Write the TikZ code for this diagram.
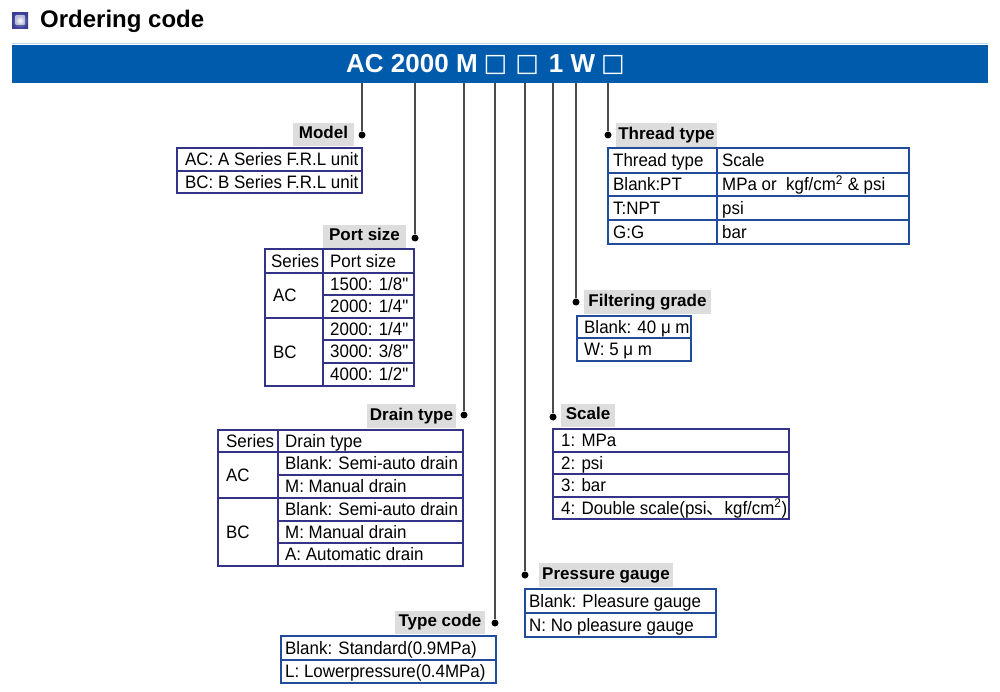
\documentclass[tikz,border=0pt]{standalone}
\usepackage{fontspec}
\setmainfont{Liberation Sans}
\newfontfamily\narrow{Liberation Sans}[FakeStretch=0.94]
\newfontfamily\cjk{Noto Sans CJK SC}
\newfontfamily\symfont{DejaVu Sans}
\usetikzlibrary{positioning}
\definecolor{barblue}{RGB}{0,91,172}
\definecolor{barlight}{RGB}{190,215,238}
\definecolor{tagback}{RGB}{221,221,221}
\definecolor{gridpurple}{RGB}{52,52,135}
\definecolor{gridblue}{RGB}{35,75,155}
\definecolor{leadgray}{RGB}{75,75,75}
\definecolor{iconblue}{RGB}{58,62,150}
\newcommand\slot{{\symfont\fontsize{25}{25}\selectfont\raisebox{1.5pt}{□}}}
\newcommand\inch{\textquotedbl}
\tikzset{
  lead/.style={leadgray, line width=1.3pt},
  grid/.style={gridpurple, line width=1.4pt},
  bluegrid/.style={gridblue, line width=1.4pt},
  tag/.style={fill=tagback, inner sep=0pt, minimum height=23.5pt,
    font=\bfseries\fontsize{17}{17}\selectfont, text height=12pt, text depth=3.5pt},
  cell/.style={anchor=west, inner sep=0pt, font=\narrow\fontsize{18}{20}\selectfont,
    text height=12.5pt, text depth=0pt},
  knob/.style={circle, fill=black, inner sep=0pt, minimum size=7pt}
}
\begin{document}
\begin{tikzpicture}[x=1pt, y=-1pt]
  \useasboundingbox (0,0) rectangle (1000,692);
  % heading
  \shade[inner color=iconblue!55, outer color=iconblue] (12,12.5) rectangle (28,28.5);
  \shade[inner color=white, outer color=iconblue!35] (15.5,16) rectangle (24.5,25);
  \node[anchor=base west, inner sep=0pt, font=\bfseries\fontsize{24}{24}\selectfont] (title) at (40,27.5) {Ordering code};
  % code bar
  \draw[barlight, line width=1pt] (12,44) -- (988,44);
  \node[fill=barblue, inner sep=0pt, minimum width=976pt, minimum height=38pt] (bar) at (500,64) {};
  \node[anchor=base west, inner sep=0pt, text=white, font=\bfseries\fontsize{26}{26}\selectfont] (code) at (346,73)
    {AC 2000 M\hspace{6pt}\slot\hspace{8pt}\slot\hspace{10pt}1 W\hspace{6pt}\slot};

  % dots and leads
  \node[knob] (model dot) at (362,135) {};
  \node[knob] (port dot) at (415,238) {};
  \node[knob] (drain dot) at (464,415) {};
  \node[knob] (type dot) at (495,623) {};
  \node[knob] (gauge dot) at (525,575) {};
  \node[knob] (scale dot) at (553,417) {};
  \node[knob] (filter dot) at (576,302) {};
  \node[knob] (thread dot) at (608,135) {};
  \draw[lead] (bar.south -| model dot) -- (model dot);
  \draw[lead] (bar.south -| port dot) -- (port dot);
  \draw[lead] (bar.south -| drain dot) -- (drain dot);
  \draw[lead] (bar.south -| type dot) -- (type dot);
  \draw[lead] (bar.south -| gauge dot) -- (gauge dot);
  \draw[lead] (bar.south -| scale dot) -- (scale dot);
  \draw[lead] (bar.south -| filter dot) -- (filter dot);
  \draw[lead] (bar.south -| thread dot) -- (thread dot);

  % gray tags
  \node[tag, minimum width=61pt] (model) at (323.5,134.5) {Model};
  \node[tag, minimum width=83pt] (port) at (364.5,236.5) {Port size};
  \node[tag, minimum width=89pt] (drain) at (411.5,416) {Drain type};
  \node[tag, minimum width=90pt] (type) at (440,622.5) {Type code};
  \node[tag, minimum width=134pt] (gauge) at (606,575) {Pressure gauge};
  \node[tag, minimum width=54pt] (scale) at (588,415.5) {Scale};
  \node[tag, minimum width=101pt] (thread) at (666.5,135) {Thread type};
  \node[tag, minimum width=127pt] (filter) at (647.5,302) {Filtering grade};

  % model
  \draw[grid] (177,148) rectangle (362,193);
  \draw[grid] (177,171) -- (362,171);
  \node[cell] (model a) at (185,159.5) {AC: A Series F.R.L unit};
  \node[cell] (model b) at (185,182) {BC: B Series F.R.L unit};

  % port size
  \draw[grid] (265,249) rectangle (414,386);
  \draw[grid] (323,249) -- (323,386);
  \draw[grid] (265,273) -- (414,273);
  \draw[grid] (265,318) -- (414,318);
  \draw[grid] (323,295) -- (414,295);
  \draw[grid] (323,340) -- (414,340);
  \draw[grid] (323,363) -- (414,363);
  \node[cell] (port head a) at (271,261) {Series};
  \node[cell] (port head b) at (330,261) {Port size};
  \node[cell] (port ac) at (273,295.5) {AC};
  \node[cell] (port bc) at (273,352) {BC};
  \node[cell] (port a) at (330,284) {1500: 1/8\inch};
  \node[cell] (port b) at (330,306.5) {2000: 1/4\inch};
  \node[cell] (port c) at (330,329) {2000: 1/4\inch};
  \node[cell] (port d) at (330,351.5) {3000: 3/8\inch};
  \node[cell] (port e) at (330,374.5) {4000: 1/2\inch};

  % drain type
  \draw[grid] (218,430) rectangle (463,566);
  \draw[grid] (278,430) -- (278,566);
  \draw[grid] (218,452) -- (463,452);
  \draw[grid] (218,498) -- (463,498);
  \draw[grid] (278,475) -- (463,475);
  \draw[grid] (278,521) -- (463,521);
  \draw[grid] (278,543) -- (463,543);
  \node[cell] (drain head a) at (226,441) {Series};
  \node[cell] (drain head b) at (285,441) {Drain type};
  \node[cell] (drain ac) at (226,475) {AC};
  \node[cell] (drain bc) at (226,532) {BC};
  \node[cell] (drain a) at (285,463.5) {Blank: Semi-auto drain};
  \node[cell] (drain b) at (285,486.5) {M: Manual drain};
  \node[cell] (drain c) at (285,509.5) {Blank: Semi-auto drain};
  \node[cell] (drain d) at (285,532) {M: Manual drain};
  \node[cell] (drain e) at (285,554.5) {A: Automatic drain};

  % type code
  \draw[bluegrid] (281,636) rectangle (496,683);
  \draw[bluegrid] (281,660) -- (496,660);
  \node[cell] (type a) at (285,648) {Blank: Standard(0.9MPa)};
  \node[cell] (type b) at (285,671.5) {L: Lowerpressure(0.4MPa)};

  % pressure gauge
  \draw[bluegrid] (525,589) rectangle (716,637);
  \draw[bluegrid] (525,613) -- (716,613);
  \node[cell] (gauge a) at (529,601) {Blank: Pleasure gauge};
  \node[cell] (gauge b) at (529,625) {N: No pleasure gauge};

  % scale
  \draw[grid] (553,429) rectangle (789,519);
  \draw[grid] (553,452) -- (789,452);
  \draw[grid] (553,474) -- (789,474);
  \draw[grid] (553,497) -- (789,497);
  \node[cell] (scale a) at (561,440.5) {1: MPa};
  \node[cell] (scale b) at (561,463) {2: psi};
  \node[cell] (scale c) at (561,485.5) {3: bar};
  \node[cell] (scale d) at (561,508) {4: Double scale(psi{\cjk 、}kgf/cm\textsuperscript{2})};

  % thread type
  \draw[bluegrid] (608,148) rectangle (909,244);
  \draw[bluegrid] (717,148) -- (717,244);
  \draw[bluegrid] (608,173) -- (909,173);
  \draw[bluegrid] (608,196) -- (909,196);
  \draw[bluegrid] (608,220) -- (909,220);
  \node[cell] (thread head a) at (613,160.5) {Thread type};
  \node[cell] (thread head b) at (722,160.5) {Scale};
  \node[cell] (thread a) at (613,184.5) {Blank:PT};
  \node[cell] (thread b) at (722,184.5) {MPa or\ \ kgf/cm\textsuperscript{2} \& psi};
  \node[cell] (thread c) at (613,208) {T:NPT};
  \node[cell] (thread d) at (722,208) {psi};
  \node[cell] (thread e) at (613,232) {G:G};
  \node[cell] (thread f) at (722,232) {bar};

  % filtering grade
  \draw[bluegrid] (577,316) rectangle (691,361);
  \draw[bluegrid] (577,338) -- (691,338);
  \node[cell] (filter a) at (584,327) {Blank: 40 μ m};
  \node[cell] (filter b) at (584,349.5) {W: 5 μ m};
\end{tikzpicture}
\end{document}
